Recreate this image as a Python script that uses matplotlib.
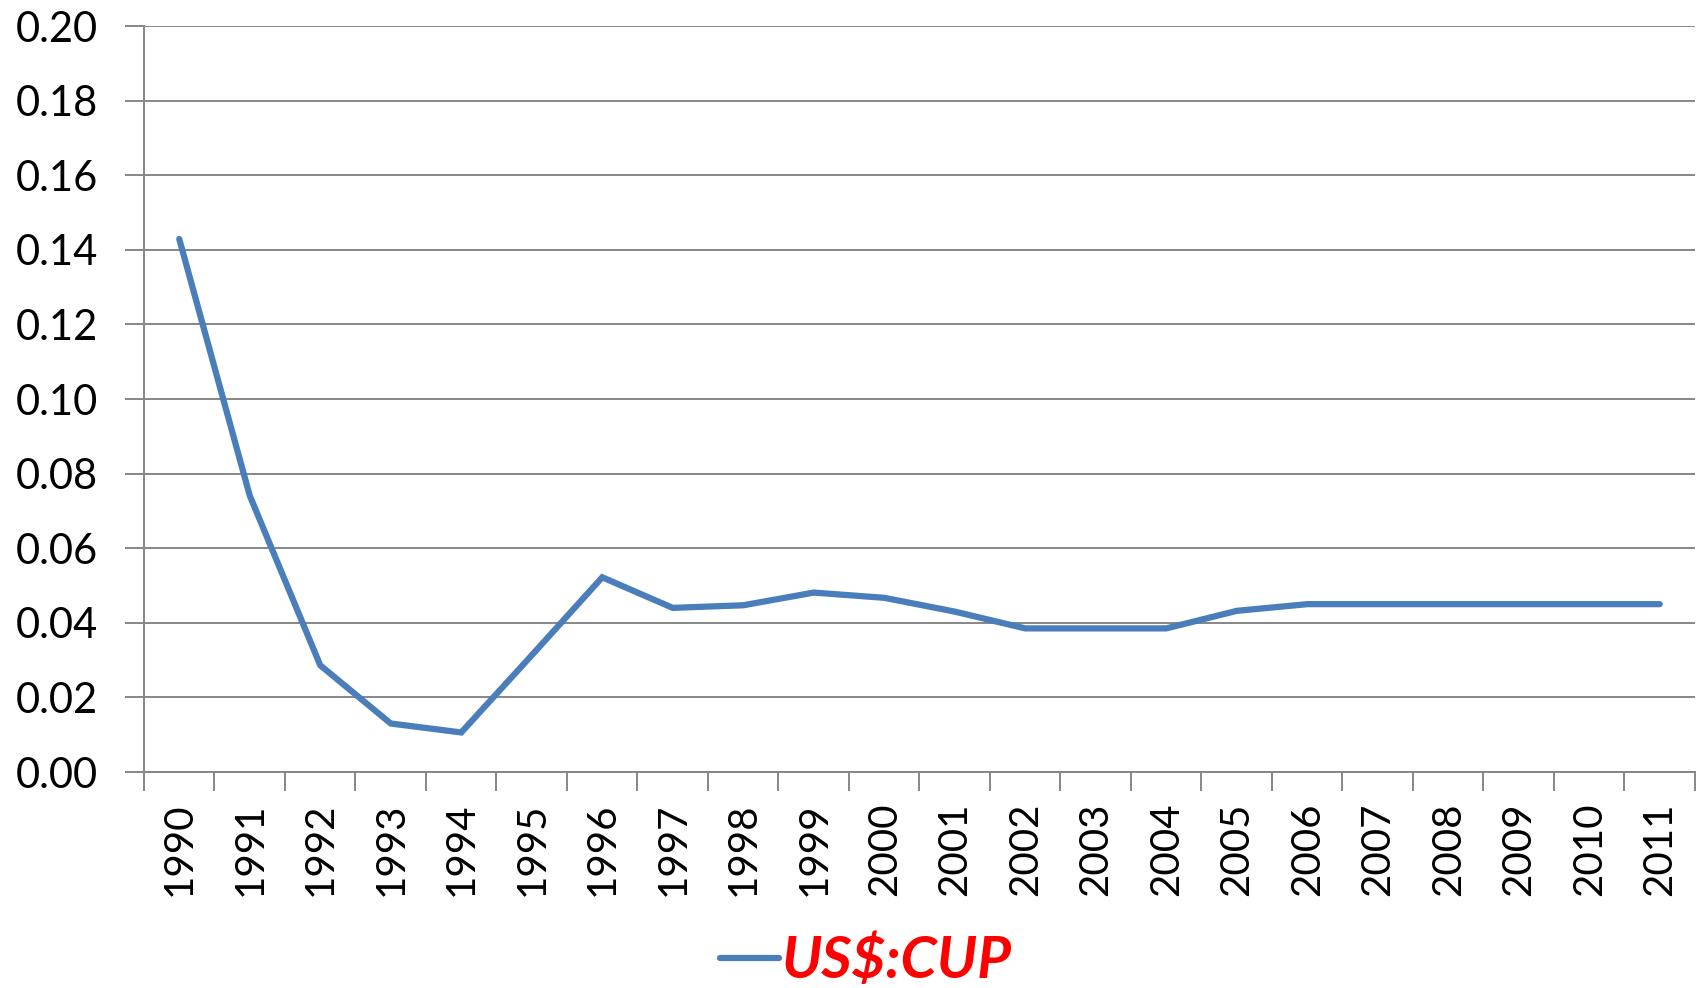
import matplotlib

matplotlib.use("Agg")
import matplotlib.pyplot as plt
import matplotlib.ticker as mticker
from matplotlib.lines import Line2D
import numpy as np

years = [str(y) for y in range(1990, 2012)]
usd_cup = [0.1429, 0.0741, 0.0286, 0.0130, 0.0106, 0.0313, 0.0522, 0.0440,
           0.0447, 0.0481, 0.0467, 0.0430, 0.0385, 0.0385, 0.0385, 0.0432,
           0.0450, 0.0450, 0.0450, 0.0450, 0.0450, 0.0450]
y_ticks = np.arange(0, 0.201, 0.02)

LINE = "#4a7ebb"
GRID = "#868686"

plt.rcParams["font.family"] = ["Lato", "DejaVu Sans"]

fig = plt.figure(figsize=(17.08, 9.88), dpi=100)
ax = fig.add_axes([144 / 1708, 1 - 772 / 988, (1695 - 144) / 1708, (772 - 26) / 988])

x = np.arange(len(years))
ax.plot(x, usd_cup, color=LINE, linewidth=4.5, solid_capstyle="round", solid_joinstyle="miter")

ax.set_xlim(-0.5, len(years) - 0.5)
ax.set_ylim(0, 0.20)

ax.set_yticks(y_ticks)
ax.yaxis.set_major_formatter(mticker.FormatStrFormatter("%.2f"))
ax.grid(axis="y", color=GRID, linewidth=1.4)
ax.set_axisbelow(True)

# Excel-style category axis: ticks between categories, labels centred
ax.set_xticks(np.arange(-0.5, len(years), 1.0))
ax.set_xticklabels([])
ax.set_xticks(x, minor=True)
ax.set_xticklabels(years, minor=True, rotation=90, fontsize=29)
ax.tick_params(axis="x", which="major", length=14, width=1.4, color=GRID, direction="out")
ax.tick_params(axis="x", which="minor", length=0, pad=22)
ax.tick_params(axis="y", length=14, width=1.4, color=GRID, labelsize=30, pad=19)

for side in ("top", "right"):
    ax.spines[side].set_visible(False)
for side in ("left", "bottom"):
    ax.spines[side].set_color(GRID)
    ax.spines[side].set_linewidth(1.4)

handle = Line2D([], [], color=LINE, linewidth=4.5, solid_capstyle="round")
leg = fig.legend([handle], ["US$:CUP"], loc="center", bbox_to_anchor=(0.507, 0.027),
                 frameon=False, handlelength=1.0, handletextpad=0.05,
                 prop={"size": 42, "weight": "bold", "style": "italic"})
for t in leg.get_texts():
    t.set_color("#ff0000")

fig.savefig("out.png", dpi=100)
